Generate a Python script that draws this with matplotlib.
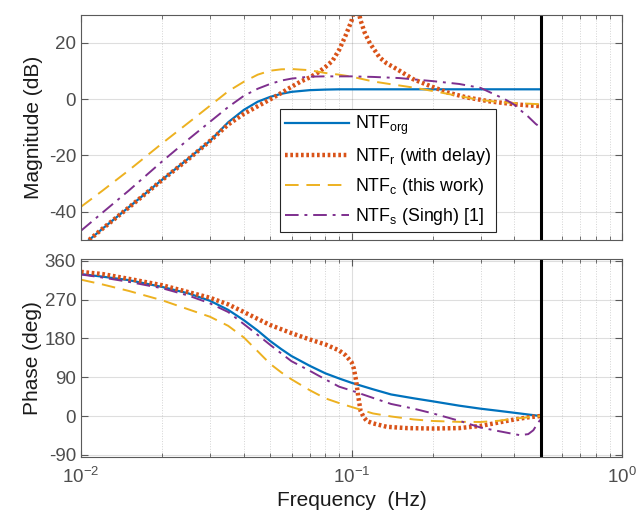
import matplotlib
matplotlib.use('Agg')
import matplotlib.pyplot as plt
from matplotlib.ticker import LogLocator, NullFormatter

plt.rcParams['font.family'] = ['Liberation Sans', 'DejaVu Sans']
plt.rcParams['mathtext.fontset'] = 'custom'
plt.rcParams['mathtext.rm'] = 'Liberation Sans'
plt.rcParams['mathtext.it'] = 'Liberation Sans:italic'
plt.rcParams['axes.unicode_minus'] = False

# magnitude (dB)
f_mag = [0.01, 0.012, 0.015, 0.02, 0.025, 0.03, 0.035, 0.04, 0.045, 0.05, 0.055, 0.06,
         0.07, 0.08, 0.09, 0.1, 0.12, 0.14, 0.17, 0.2, 0.25, 0.3, 0.35, 0.4, 0.45, 0.5]
mag_org = [-52.4, -46.0, -38.4, -28.5, -21.0, -14.8, -8.2, -3.8, -0.9, 0.8, 1.9, 2.6,
           3.2, 3.4, 3.5, 3.5, 3.5, 3.5, 3.5, 3.5, 3.5, 3.5, 3.5, 3.5, 3.5, 3.5]
mag_c = [-38.2, -32.5, -25.3, -15.6, -8.3, -2.3, 2.8, 6.2, 8.7, 10.1, 10.6, 10.7,
         10.3, 9.3, 8.7, 8.0, 6.3, 5.3, 4.1, 2.9, 1.1, -0.3, -1.0, -1.4, -1.6, -1.8]
f_mag_s = [0.01, 0.012, 0.015, 0.02, 0.025, 0.03, 0.035, 0.04, 0.045, 0.05, 0.055, 0.06,
           0.07, 0.08, 0.09, 0.1, 0.12, 0.15, 0.2, 0.25, 0.3, 0.35, 0.375, 0.4, 0.42,
           0.45, 0.48, 0.5]
mag_s = [-46.7, -40.3, -32.5, -22.0, -14.2, -8.0, -2.8, 1.2, 3.7, 5.4, 6.6, 7.3,
         8.0, 8.1, 8.1, 8.1, 7.9, 7.5, 6.4, 5.4, 4.0, 1.0, -0.4, -2.0, -3.8, -6.2, -8.8, -10.0]
f_mag_r = [0.01, 0.012, 0.015, 0.02, 0.025, 0.03, 0.035, 0.04, 0.045, 0.05, 0.055, 0.06,
           0.065, 0.07, 0.075, 0.08, 0.085, 0.09, 0.095, 0.1, 0.102, 0.104, 0.106, 0.108,
           0.112, 0.117, 0.127, 0.135, 0.147, 0.169, 0.195, 0.226, 0.267, 0.325, 0.4,
           0.45, 0.5]
mag_r = [-52.4, -46.0, -38.5, -28.6, -21.2, -14.8, -9.0, -5.2, -2.5, -0.1, 2.2, 4.4,
         6.3, 7.7, 9.4, 11.4, 13.6, 17.5, 22.5, 27.8, 31.5, 34.0, 31.5, 28.0,
         23.5, 19.8, 14.8, 12.7, 10.7, 7.1, 4.7, 2.4, 0.6, -0.8, -1.8, -2.2, -2.5]

# phase (deg)
ph_org = [329, 323, 315, 299, 284, 267, 246, 222, 198, 174, 155, 139,
          116.5, 99, 87, 77, 62, 50, 41, 34, 24, 17, 12, 7.5, 3.5, 0]
ph_c = [316, 305, 290, 268, 247, 230, 209, 182, 150, 121, 101, 85,
        60, 41, 30, 21, 6, -1, -8, -11.5, -13.5, -13.8, -11, -6, -3, 0]
f_ph_s = [0.01, 0.012, 0.015, 0.02, 0.025, 0.03, 0.035, 0.04, 0.045, 0.05, 0.055, 0.06,
          0.07, 0.08, 0.09, 0.1, 0.12, 0.14, 0.17, 0.2, 0.25, 0.3, 0.35, 0.4, 0.42,
          0.45, 0.47, 0.49, 0.5]
ph_s = [328, 321, 311, 296, 279, 261, 241, 213, 188, 165, 145, 127,
        105, 85, 68, 59, 42, 28, 17, 6, -11, -26.7, -35, -42, -44.4,
        -42, -33, -15, -8]
f_ph_r = [0.01, 0.012, 0.015, 0.02, 0.025, 0.03, 0.035, 0.04, 0.045, 0.05, 0.06, 0.07,
          0.08, 0.09, 0.095, 0.1, 0.102, 0.104, 0.106, 0.108, 0.111, 0.114, 0.12,
          0.135, 0.16, 0.2, 0.25, 0.3, 0.35, 0.4, 0.45, 0.5]
ph_r = [334, 329, 318, 303, 287, 274, 258.7, 241, 225, 211, 192, 177.5,
        166, 152, 141, 125, 110, 82, 44, 12, -3, -11.5, -17,
        -25, -28, -29, -28, -23, -15, -8, -3, 0]

f_nyq = 0.5

c_org, c_r, c_c, c_s = '#0072BD', '#D95319', '#EDB120', '#7E2F8E'
tick_c = '#4d4d4d'
edge_c = '#5a5a5a'

fig = plt.figure(figsize=(6.39, 5.15), dpi=100)
ax1 = fig.add_axes([0.1268, 0.534, 0.8466, 0.4375])
ax2 = fig.add_axes([0.1268, 0.1126, 0.8466, 0.3854])

ax1.semilogx(f_mag, mag_org, color=c_org, lw=1.6, label='NTF$_\\mathregular{org}$')
ax1.semilogx(f_mag_r, mag_r, color=c_r, lw=3.2, ls=(0, (0.6, 0.6)),
             label='NTF$_\\mathregular{r}$ (with delay)')
ax1.semilogx(f_mag, mag_c, color=c_c, lw=1.4, ls=(0, (7, 4)),
             label='NTF$_\\mathregular{c}$ (this work)')
ax1.semilogx(f_mag_s, mag_s, color=c_s, lw=1.4, ls=(0, (7, 3, 1.5, 3)),
             label='NTF$_\\mathregular{s}$ (Singh) [1]')

ax2.semilogx(f_mag, ph_org, color=c_org, lw=1.6)
ax2.semilogx(f_ph_r, ph_r, color=c_r, lw=3.2, ls=(0, (0.6, 0.6)))
ax2.semilogx(f_mag, ph_c, color=c_c, lw=1.4, ls=(0, (7, 4)))
ax2.semilogx(f_ph_s, ph_s, color=c_s, lw=1.4, ls=(0, (7, 3, 1.5, 3)))

for ax in (ax1, ax2):
    ax.axvline(f_nyq, color='black', lw=2.2)
    ax.set_xlim(0.01, 1)
    ax.xaxis.set_major_locator(LogLocator(base=10, numticks=5))
    ax.xaxis.set_minor_locator(LogLocator(base=10, subs=range(2, 10), numticks=20))
    ax.xaxis.set_minor_formatter(NullFormatter())
    ax.grid(True, which='major', color='#262626', alpha=0.15, lw=0.8, ls='-')
    ax.grid(True, which='minor', axis='x', color='#262626', alpha=0.2, lw=0.7, ls=':')
    ax.tick_params(which='both', direction='in', top=True, right=True,
                   colors=edge_c, labelcolor=tick_c, labelsize=13.5)
    ax.tick_params(which='major', length=5)
    ax.tick_params(which='minor', length=3)
    for s in ax.spines.values():
        s.set_color(edge_c)
        s.set_linewidth(0.8)

ax1.set_ylim(-50, 30)
ax1.set_yticks([-40, -20, 0, 20])
ax1.tick_params(labelbottom=False)
ax1.set_ylabel('Magnitude (dB)', fontsize=15, color='#1a1a1a', labelpad=4)

ax2.set_ylim(-95, 365)
ax2.set_yticks([-90, 0, 90, 180, 270, 360])
ax2.set_ylabel('Phase (deg)', fontsize=15, color='#1a1a1a', labelpad=2)
ax2.set_xlabel('Frequency  (Hz)', fontsize=15, color='#1a1a1a', labelpad=3)
ax2.tick_params(axis='x', pad=7)

leg = ax1.legend(loc='lower left', bbox_to_anchor=(0.368, 0.035), borderaxespad=0,
                 fontsize=12.8, handlelength=3.6, handletextpad=0.3, borderpad=0.3,
                 labelspacing=0.5, fancybox=False, framealpha=1, edgecolor='#262626')
leg.get_frame().set_linewidth(0.8)

fig.savefig('out.png', dpi=100)
